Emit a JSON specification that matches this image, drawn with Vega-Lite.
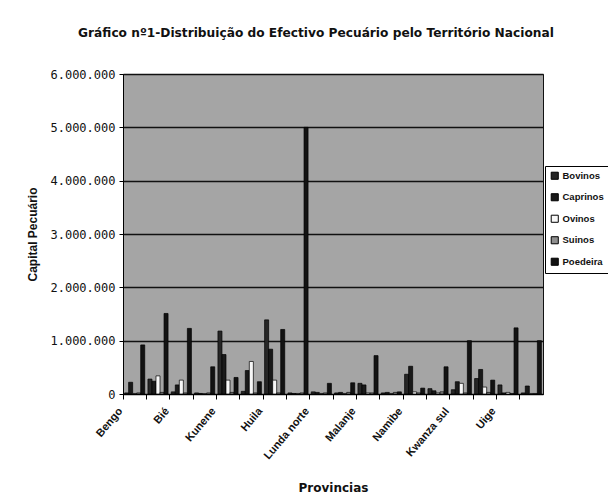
{
  "$schema": "https://vega.github.io/schema/vega-lite/v6.json",
  "width": 420,
  "height": 320,
  "autosize": {"type": "none"},
  "padding": {"left": 123, "top": 74, "right": 65, "bottom": 110},
  "background": "white",
  "config": {
    "locale": {"number": {"decimal": ",", "thousands": ".", "grouping": [3], "currency": ["", ""]}},
    "view": {"fill": "#a5a5a5", "stroke": "#111111", "strokeWidth": 1},
    "font": "Liberation Sans"
  },
  "title": {
    "text": "Gráfico nº1-Distribuição do Efectivo Pecuário pelo Território Nacional",
    "font": "DejaVu Sans",
    "fontSize": 12.2,
    "fontWeight": "bold",
    "color": "#111111",
    "anchor": "middle",
    "dx": -17,
    "offset": 29
  },
  "data": {
    "values": [
      {"provincia": "Bengo", "especie": "Bovinos", "valor": 20000},
      {"provincia": "Bengo", "especie": "Caprinos", "valor": 220000},
      {"provincia": "Bengo", "especie": "Ovinos", "valor": 10000},
      {"provincia": "Bengo", "especie": "Suinos", "valor": 20000},
      {"provincia": "Bengo", "especie": "Poedeira", "valor": 920000},
      {"provincia": "Benguela", "especie": "Bovinos", "valor": 280000},
      {"provincia": "Benguela", "especie": "Caprinos", "valor": 240000},
      {"provincia": "Benguela", "especie": "Ovinos", "valor": 340000},
      {"provincia": "Benguela", "especie": "Suinos", "valor": 30000},
      {"provincia": "Benguela", "especie": "Poedeira", "valor": 1510000},
      {"provincia": "Bié", "especie": "Bovinos", "valor": 40000},
      {"provincia": "Bié", "especie": "Caprinos", "valor": 170000},
      {"provincia": "Bié", "especie": "Ovinos", "valor": 260000},
      {"provincia": "Bié", "especie": "Suinos", "valor": 20000},
      {"provincia": "Bié", "especie": "Poedeira", "valor": 1230000},
      {"provincia": "Cabinda", "especie": "Bovinos", "valor": 20000},
      {"provincia": "Cabinda", "especie": "Caprinos", "valor": 10000},
      {"provincia": "Cabinda", "especie": "Ovinos", "valor": 5000},
      {"provincia": "Cabinda", "especie": "Suinos", "valor": 20000},
      {"provincia": "Cabinda", "especie": "Poedeira", "valor": 510000},
      {"provincia": "Kunene", "especie": "Bovinos", "valor": 1180000},
      {"provincia": "Kunene", "especie": "Caprinos", "valor": 740000},
      {"provincia": "Kunene", "especie": "Ovinos", "valor": 260000},
      {"provincia": "Kunene", "especie": "Suinos", "valor": 30000},
      {"provincia": "Kunene", "especie": "Poedeira", "valor": 310000},
      {"provincia": "Huambo", "especie": "Bovinos", "valor": 50000},
      {"provincia": "Huambo", "especie": "Caprinos", "valor": 440000},
      {"provincia": "Huambo", "especie": "Ovinos", "valor": 610000},
      {"provincia": "Huambo", "especie": "Suinos", "valor": 20000},
      {"provincia": "Huambo", "especie": "Poedeira", "valor": 230000},
      {"provincia": "Huila", "especie": "Bovinos", "valor": 1390000},
      {"provincia": "Huila", "especie": "Caprinos", "valor": 840000},
      {"provincia": "Huila", "especie": "Ovinos", "valor": 260000},
      {"provincia": "Huila", "especie": "Suinos", "valor": 20000},
      {"provincia": "Huila", "especie": "Poedeira", "valor": 1210000},
      {"provincia": "Kuando Kubango", "especie": "Bovinos", "valor": 20000},
      {"provincia": "Kuando Kubango", "especie": "Caprinos", "valor": 10000},
      {"provincia": "Kuando Kubango", "especie": "Ovinos", "valor": 10000},
      {"provincia": "Kuando Kubango", "especie": "Suinos", "valor": 20000},
      {"provincia": "Kuando Kubango", "especie": "Poedeira", "valor": 5000000},
      {"provincia": "Lunda norte", "especie": "Bovinos", "valor": 40000},
      {"provincia": "Lunda norte", "especie": "Caprinos", "valor": 30000},
      {"provincia": "Lunda norte", "especie": "Ovinos", "valor": 10000},
      {"provincia": "Lunda norte", "especie": "Suinos", "valor": 20000},
      {"provincia": "Lunda norte", "especie": "Poedeira", "valor": 200000},
      {"provincia": "Lunda sul", "especie": "Bovinos", "valor": 20000},
      {"provincia": "Lunda sul", "especie": "Caprinos", "valor": 30000},
      {"provincia": "Lunda sul", "especie": "Ovinos", "valor": 10000},
      {"provincia": "Lunda sul", "especie": "Suinos", "valor": 30000},
      {"provincia": "Lunda sul", "especie": "Poedeira", "valor": 210000},
      {"provincia": "Malanje", "especie": "Bovinos", "valor": 200000},
      {"provincia": "Malanje", "especie": "Caprinos", "valor": 170000},
      {"provincia": "Malanje", "especie": "Ovinos", "valor": 20000},
      {"provincia": "Malanje", "especie": "Suinos", "valor": 20000},
      {"provincia": "Malanje", "especie": "Poedeira", "valor": 720000},
      {"provincia": "Moxico", "especie": "Bovinos", "valor": 20000},
      {"provincia": "Moxico", "especie": "Caprinos", "valor": 30000},
      {"provincia": "Moxico", "especie": "Ovinos", "valor": 10000},
      {"provincia": "Moxico", "especie": "Suinos", "valor": 30000},
      {"provincia": "Moxico", "especie": "Poedeira", "valor": 40000},
      {"provincia": "Namibe", "especie": "Bovinos", "valor": 370000},
      {"provincia": "Namibe", "especie": "Caprinos", "valor": 520000},
      {"provincia": "Namibe", "especie": "Ovinos", "valor": 40000},
      {"provincia": "Namibe", "especie": "Suinos", "valor": 20000},
      {"provincia": "Namibe", "especie": "Poedeira", "valor": 110000},
      {"provincia": "Kwanza norte", "especie": "Bovinos", "valor": 100000},
      {"provincia": "Kwanza norte", "especie": "Caprinos", "valor": 60000},
      {"provincia": "Kwanza norte", "especie": "Ovinos", "valor": 20000},
      {"provincia": "Kwanza norte", "especie": "Suinos", "valor": 40000},
      {"provincia": "Kwanza norte", "especie": "Poedeira", "valor": 510000},
      {"provincia": "Kwanza sul", "especie": "Bovinos", "valor": 80000},
      {"provincia": "Kwanza sul", "especie": "Caprinos", "valor": 230000},
      {"provincia": "Kwanza sul", "especie": "Ovinos", "valor": 200000},
      {"provincia": "Kwanza sul", "especie": "Suinos", "valor": 20000},
      {"provincia": "Kwanza sul", "especie": "Poedeira", "valor": 1000000},
      {"provincia": "Luanda", "especie": "Bovinos", "valor": 290000},
      {"provincia": "Luanda", "especie": "Caprinos", "valor": 460000},
      {"provincia": "Luanda", "especie": "Ovinos", "valor": 130000},
      {"provincia": "Luanda", "especie": "Suinos", "valor": 30000},
      {"provincia": "Luanda", "especie": "Poedeira", "valor": 260000},
      {"provincia": "Uige", "especie": "Bovinos", "valor": 170000},
      {"provincia": "Uige", "especie": "Caprinos", "valor": 20000},
      {"provincia": "Uige", "especie": "Ovinos", "valor": 30000},
      {"provincia": "Uige", "especie": "Suinos", "valor": 10000},
      {"provincia": "Uige", "especie": "Poedeira", "valor": 1240000},
      {"provincia": "Zaire", "especie": "Bovinos", "valor": 20000},
      {"provincia": "Zaire", "especie": "Caprinos", "valor": 150000},
      {"provincia": "Zaire", "especie": "Ovinos", "valor": 10000},
      {"provincia": "Zaire", "especie": "Suinos", "valor": 10000},
      {"provincia": "Zaire", "especie": "Poedeira", "valor": 1000000}
    ]
  },
  "mark": {"type": "bar", "stroke": "#000000", "strokeWidth": 0.7},
  "encoding": {
    "x": {
      "field": "provincia",
      "type": "nominal",
      "sort": null,
      "scale": {"paddingInner": 0, "paddingOuter": 0},
      "axis": {
        "title": "Provincias",
        "titleFont": "DejaVu Sans",
        "titleFontSize": 12,
        "titleFontWeight": "bold",
        "titleColor": "#111111",
        "titleY": 93,
        "titleBaseline": "middle",
        "labelAngle": -50,
        "labelAlign": "right",
        "labelBaseline": "middle",
        "labelFont": "Liberation Sans",
        "labelFontSize": 11,
        "labelFontWeight": "bold",
        "labelColor": "#111111",
        "labelPadding": 10,
        "labelOffset": -14,
        "labelOverlap": false,
        "labelBound": false,
        "labelExpr": "indexof(['Bengo','Bié','Kunene','Huila','Lunda norte','Malanje','Namibe','Kwanza sul','Uige'], datum.value) >= 0 ? datum.value : ''",
        "bandPosition": 0,
        "tickSize": 5,
        "tickColor": "#000000",
        "domainColor": "#000000",
        "grid": false
      }
    },
    "xOffset": {
      "field": "especie",
      "sort": ["Bovinos", "Caprinos", "Ovinos", "Suinos", "Poedeira"],
      "scale": {"paddingInner": 0, "paddingOuter": 0.4}
    },
    "y": {
      "field": "valor",
      "type": "quantitative",
      "scale": {"domain": [0, 6000000], "nice": false},
      "axis": {
        "title": "Capital Pecuário",
        "titleFont": "Liberation Sans",
        "titleFontSize": 12,
        "titleFontWeight": "bold",
        "titleColor": "#111111",
        "titlePadding": 10,
        "values": [0, 1000000, 2000000, 3000000, 4000000, 5000000, 6000000],
        "format": ",d",
        "labelFont": "DejaVu Sans Mono",
        "labelFontSize": 12,
        "labelColor": "#111111",
        "labelPadding": 4,
        "tickSize": 4,
        "tickColor": "#000000",
        "domainColor": "#000000",
        "grid": true,
        "gridColor": "#111111",
        "gridWidth": 1.3,
        "gridOpacity": 1
      }
    },
    "color": {
      "field": "especie",
      "type": "nominal",
      "scale": {
        "domain": ["Bovinos", "Caprinos", "Ovinos", "Suinos", "Poedeira"],
        "range": ["#262626", "#1a1a1a", "#f7f7f7", "#8f8f8f", "#121212"]
      },
      "legend": {
        "orient": "none",
        "legendX": 422,
        "legendY": 92,
        "title": null,
        "fillColor": "white",
        "strokeColor": "#000000",
        "padding": 5,
        "rowPadding": 9.5,
        "symbolType": "square",
        "symbolSize": 50,
        "symbolStrokeColor": "#000000",
        "symbolStrokeWidth": 1,
        "symbolOpacity": 1,
        "labelFont": "Liberation Sans",
        "labelFontSize": 9.5,
        "labelFontWeight": "bold",
        "labelColor": "#111111",
        "labelOffset": 3
      }
    }
  }
}
